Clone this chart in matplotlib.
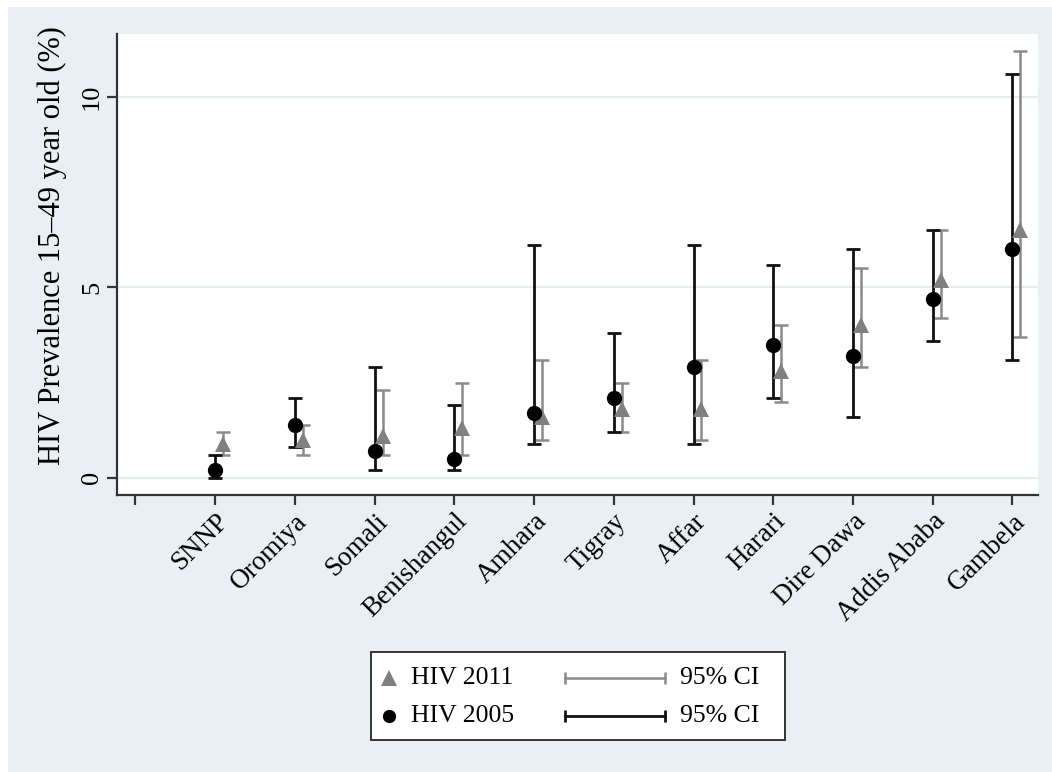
import matplotlib.pyplot as plt
from matplotlib.lines import Line2D
from matplotlib.patches import Rectangle
import numpy as np

# regions, sorted as in the chart
regions = ["SNNP", "Oromiya", "Somali", "Benishangul", "Amhara", "Tigray",
           "Affar", "Harari", "Dire Dawa", "Addis Ababa", "Gambela"]

# HIV 2005 estimates and 95% CI
hiv2005 = [0.2, 1.4, 0.7, 0.5, 1.7, 2.1, 2.9, 3.5, 3.2, 4.7, 6.0]
lo2005 = [0.0, 0.8, 0.2, 0.2, 0.9, 1.2, 0.9, 2.1, 1.6, 3.6, 3.1]
hi2005 = [0.6, 2.1, 2.9, 1.9, 6.1, 3.8, 6.1, 5.6, 6.0, 6.5, 10.6]

# HIV 2011 estimates and 95% CI
hiv2011 = [0.9, 1.0, 1.1, 1.3, 1.6, 1.8, 1.8, 2.8, 4.0, 5.2, 6.5]
lo2011 = [0.6, 0.6, 0.6, 0.6, 1.0, 1.2, 1.0, 2.0, 2.9, 4.2, 3.7]
hi2011 = [1.2, 1.4, 2.3, 2.5, 3.1, 2.5, 3.1, 4.0, 5.5, 6.5, 11.2]

yticks = [0, 5, 10]

W, H = 1052, 772
BG = "#e8f0f3"
GRAY = "#808080"
DARK = "#111111"
plt.rcParams["font.family"] = ["Liberation Serif", "DejaVu Serif"]

fig = plt.figure(figsize=(W / 100, H / 100), dpi=100, facecolor=BG)
# thin white strips on left and top like the source image
fig.patches.append(Rectangle((0, 0), 8 / W, 1, transform=fig.transFigure,
                             facecolor="white", edgecolor="none", zorder=-5))
fig.patches.append(Rectangle((0, 1 - 7 / H), 1, 7 / H, transform=fig.transFigure,
                             facecolor="white", edgecolor="none", zorder=-5))

ax = fig.add_axes([117 / W, 1 - 495 / H, (1038 - 117) / W, (495 - 34) / H])
ax.set_facecolor("white")

x = np.arange(1, len(regions) + 1)
off = 0.1

h05 = np.array(hiv2005)
h11 = np.array(hiv2011)
err05 = [h05 - np.array(lo2005), np.array(hi2005) - h05]
err11 = [h11 - np.array(lo2011), np.array(hi2011) - h11]

ax.errorbar(x + off, h11, yerr=err11, fmt="none", ecolor="#8a8a8a",
            elinewidth=1.8, capsize=5, capthick=1.8, zorder=3)
ax.errorbar(x, h05, yerr=err05, fmt="none", ecolor=DARK,
            elinewidth=2, capsize=5, capthick=2, zorder=4)
ax.plot(x + off, h11, linestyle="none", marker="^", ms=12, color=GRAY,
        markeredgewidth=0, zorder=5)
ax.plot(x, h05, linestyle="none", marker="o", ms=11, color="black",
        markeredgewidth=0, zorder=6)

ax.set_xlim(-0.23, 11.32)
ax.set_ylim(-0.45, 11.65)
ax.set_xticks(np.arange(0, len(regions) + 1))
ax.set_xticklabels([""] + regions, rotation=45, ha="right",
                   rotation_mode="anchor", fontsize=19.5)
ax.set_yticks(yticks)
ax.set_yticklabels([str(t) for t in yticks], fontsize=19, rotation=90, va="center")

for t in yticks:
    ax.axhline(t, color="#e4ecef", lw=1.6, zorder=1)

for s in ["top", "right"]:
    ax.spines[s].set_visible(False)
for s in ["left", "bottom"]:
    ax.spines[s].set_color("#333333")
    ax.spines[s].set_linewidth(1.6)
ax.tick_params(axis="both", length=7, width=1.6, color="#333333")
ax.tick_params(axis="y", pad=3)
ax.tick_params(axis="x", pad=3)

ax.set_ylabel("HIV Prevalence 15\u201349 year old (%)", fontsize=22)
ax.yaxis.set_label_coords(-0.054, 0.54)


# legend drawn by hand in pixel positions
def fx(px):
    return px / W


def fy(py):
    return 1 - py / H


fig.patches.append(Rectangle((fx(371), fy(740)), fx(785) - fx(371), fy(652) - fy(740),
                             transform=fig.transFigure, facecolor="white",
                             edgecolor="#333333", lw=1.4, zorder=2))
rows = [(678, "^", GRAY, "#8a8a8a", 1.8, "HIV 2011", 11),
        (716, "o", "black", DARK, 2.0, "HIV 2005", 9.5)]
for ry, mk, mc, lc, lw, lab, ms in rows:
    fig.add_artist(Line2D([fx(389)], [fy(ry)], marker=mk, ms=ms, color=mc,
                          linestyle="none", markeredgewidth=0,
                          transform=fig.transFigure, zorder=3))
    fig.text(fx(411), fy(ry), lab, fontsize=18.5, va="center", ha="left", zorder=3)
    fig.add_artist(Line2D([fx(565), fx(665)], [fy(ry), fy(ry)], color=lc, lw=lw,
                          marker="|", ms=9, markeredgewidth=lw,
                          transform=fig.transFigure, zorder=3))
    fig.text(fx(680), fy(ry), "95% CI", fontsize=18.5, va="center", ha="left", zorder=3)

fig.savefig("out.png", dpi=100, facecolor=fig.get_facecolor())
